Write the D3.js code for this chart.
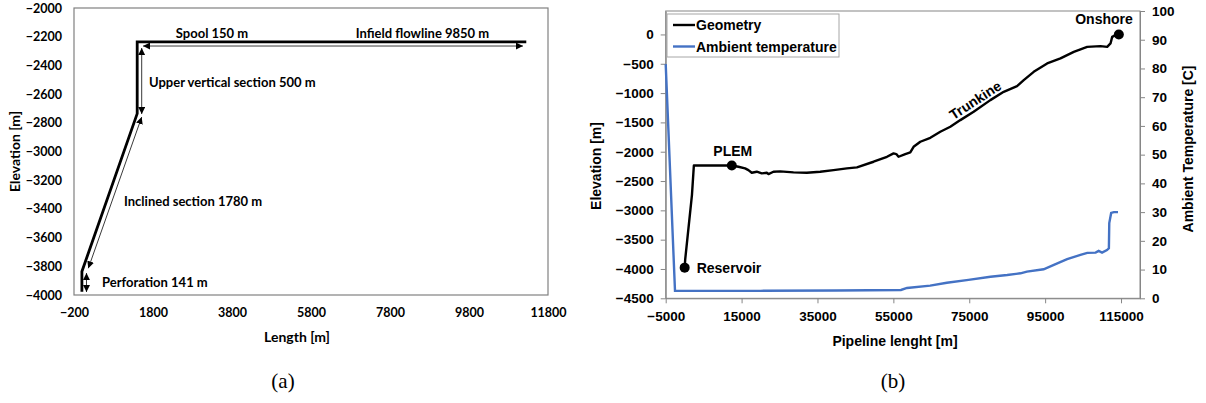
<!DOCTYPE html>
<html>
<head>
<meta charset="utf-8">
<script src="https://cdnjs.cloudflare.com/ajax/libs/d3/7.8.5/d3.min.js"></script>
<style>
  body { margin: 0; background: #fff; }
  svg { display: block; }
</style>
</head>
<body>
<div id="chart"></div>
<script>
// ---- data: (a) well geometry ----
const wellLength = [0, 0, 1400, 1400, 11250];
const wellElev = [-3977, -3836, -2736, -2236, -2236];
const wellXTicks = [-200, 1800, 3800, 5800, 7800, 9800, 11800];
const wellYTicks = d3.range(-4000, -1999, 200);

// section arrows (data coords) and their labels
const sectionArrows = [
  { x1: 1547, y1: -2265, x2: 11167, y2: -2265 },
  { x1: 1514, y1: -2279, x2: 1514, y2: -2739 },
  { x1: 1514, y1: -2760, x2: 162, y2: -3814 },
  { x1: 116, y1: -3847, x2: 116, y2: -3979 }
];
const sectionLabels = [
  { text: "Spool 150 m", x: 3294, y: -2175, anchor: "middle" },
  { text: "Infield flowline 9850 m", x: 8623, y: -2175, anchor: "middle" },
  { text: "Upper vertical section 500 m", x: 1699, y: -2516, anchor: "start" },
  { text: "Inclined section 1780 m", x: 1066, y: -3343, anchor: "start" },
  { text: "Perforation 141 m", x: 509, y: -3907, anchor: "start" }
];

// ---- data: (b) pipeline profile ----
const pipeLength = [0, 141, 1921, 2421, 12421, 14160, 15920, 16800, 17680, 19000,
  20320, 21640, 22080, 23400, 25160, 28680, 32200, 35710, 39230, 42750,
  45400, 49780, 53310, 55050, 55770, 56370, 58140, 59460, 60330, 62100,
  64740, 67370, 70010, 72650, 76160, 80560, 84080, 87600, 89360, 91990,
  95530, 99040, 102550, 106080, 109590, 111350, 112230, 112670, 113550, 114420];
const pipeElev = [-3977, -3836, -2736, -2236, -2236, -2256, -2284, -2313, -2358, -2341,
  -2370, -2358, -2381, -2341, -2336, -2353, -2358, -2341, -2313, -2284,
  -2267, -2171, -2086, -2028, -2040, -2086, -2040, -2011, -1916, -1830,
  -1762, -1660, -1575, -1461, -1319, -1120, -978, -881, -779, -637,
  -494, -409, -296, -211, -199, -211, -153, -41, -11, 0];

const tempLength = [-5000, -2550, 20000, 40000, 57000, 58600, 64700, 69100, 74800, 80600,
  85000, 88500, 90200, 94600, 97300, 100800, 104300, 106100, 108300, 109100,
  110000, 111300, 111800, 111900, 112400, 113100, 114200];
const tempValue = [81.5, 2.6, 2.6, 2.7, 2.9, 3.6, 4.4, 5.4, 6.4, 7.5,
  8.1, 8.7, 9.3, 10.1, 11.6, 13.6, 15.1, 15.8, 15.9, 16.5,
  15.9, 16.8, 17.4, 26.2, 29.7, 30, 30];

const pipeXTicks = d3.range(-5000, 115001, 20000);
const pipeYTicks = d3.range(-4500, 1, 500);
const tempTicks = d3.range(0, 101, 10);

const markers = [
  { name: "Reservoir", x: 0, y: -3977 },
  { name: "PLEM", x: 12421, y: -2236 },
  { name: "Onshore", x: 114420, y: 0 }
];

const svg = d3.select("#chart").append("svg")
  .attr("width", 1206)
  .attr("height", 403);

const defs = svg.append("defs");
defs.append("marker")
  .attr("id", "head")
  .attr("viewBox", "0 0 10 10")
  .attr("refX", 10).attr("refY", 5)
  .attr("markerWidth", 7).attr("markerHeight", 7)
  .attr("markerUnits", "userSpaceOnUse")
  .attr("orient", "auto-start-reverse")
  .append("path").attr("d", "M0,0L10,5L0,10Z").attr("fill", "#000");

// ================= (a) =================
const calibri = "Lato, 'Open Sans', sans-serif";
const xA = d3.scaleLinear().domain([-200, 11800]).range([74, 548]);
const yA = d3.scaleLinear().domain([-4000, -2000]).range([295, 8]);
const gA = svg.append("g").style("font-family", calibri).style("font-weight", 700);

gA.append("rect")
  .attr("x", xA(-200)).attr("y", yA(-2000))
  .attr("width", xA(11800) - xA(-200)).attr("height", yA(-4000) - yA(-2000))
  .attr("fill", "none").attr("stroke", "#808080").attr("stroke-width", 1.2);

const axAy = gA.append("g").attr("transform", `translate(${xA(-200)},0)`)
  .call(d3.axisLeft(yA).tickValues(wellYTicks).tickSize(0).tickPadding(12).tickFormat(d3.format("d")));
const axAx = gA.append("g").attr("transform", `translate(0,${yA(-4000)})`)
  .call(d3.axisBottom(xA).tickValues(wellXTicks).tickSize(0).tickPadding(13).tickFormat(d3.format("d")));
[axAy, axAx].forEach(a => {
  a.select(".domain").remove();
  a.selectAll("text").style("font-family", calibri).style("font-weight", 700)
    .style("font-size", "12.5px").attr("fill", "#000");
});

gA.append("text").attr("transform", `translate(20,${(yA(-2000) + yA(-4000)) / 2}) rotate(-90)`)
  .attr("text-anchor", "middle").style("font-size", "14px").text("Elevation [m]");
gA.append("text").attr("x", 297).attr("y", 342)
  .attr("text-anchor", "middle").style("font-size", "14px").text("Length [m]");

gA.append("path")
  .datum(d3.zip(wellLength, wellElev))
  .attr("fill", "none").attr("stroke", "#000").attr("stroke-width", 2.8)
  .attr("stroke-linejoin", "miter")
  .attr("d", d3.line().x(d => xA(d[0])).y(d => yA(d[1])));

gA.selectAll("line.arrow").data(sectionArrows).join("line")
  .attr("class", "arrow")
  .attr("x1", d => xA(d.x1)).attr("y1", d => yA(d.y1))
  .attr("x2", d => xA(d.x2)).attr("y2", d => yA(d.y2))
  .attr("stroke", "#222").attr("stroke-width", 0.9)
  .attr("marker-start", "url(#head)").attr("marker-end", "url(#head)");

gA.selectAll("text.lbl").data(sectionLabels).join("text")
  .attr("class", "lbl")
  .attr("x", d => xA(d.x)).attr("y", d => yA(d.y))
  .attr("text-anchor", d => d.anchor)
  .attr("dominant-baseline", "central")
  .style("font-size", "13px")
  .text(d => d.text);

// ================= (b) =================
const arial = "'Liberation Sans', Arial, sans-serif";
const xB = d3.scaleLinear().domain([-5000, 120000]).range([665.7, 1140]);
const yB = d3.scaleLinear().domain([-4500, 400]).range([298.3, 11]);
const yT = d3.scaleLinear().domain([0, 100]).range([298.3, 11]);
const gB = svg.append("g").style("font-family", arial).style("font-weight", 700);

gB.append("rect")
  .attr("x", xB(-5000)).attr("y", yB(400))
  .attr("width", xB(120000) - xB(-5000)).attr("height", yB(-4500) - yB(400))
  .attr("fill", "none").attr("stroke", "#868686").attr("stroke-width", 1);

const axBx = gB.append("g").attr("transform", `translate(0,${yB(-4500)})`)
  .call(d3.axisBottom(xB).tickValues(pipeXTicks).tickSizeInner(5).tickSizeOuter(0).tickPadding(6).tickFormat(d3.format("d")));
const axBy = gB.append("g").attr("transform", `translate(${xB(-5000)},0)`)
  .call(d3.axisLeft(yB).tickValues(pipeYTicks).tickSizeInner(5).tickSizeOuter(0).tickPadding(7).tickFormat(d3.format("d")));
const axBt = gB.append("g").attr("transform", `translate(${xB(120000)},0)`)
  .call(d3.axisRight(yT).tickValues(tempTicks).tickSizeInner(5).tickSizeOuter(0).tickPadding(7));
[axBx, axBy, axBt].forEach(a => {
  a.select(".domain").attr("stroke", "#868686");
  a.selectAll(".tick line").attr("stroke", "#868686");
  a.selectAll("text").style("font-family", arial).style("font-weight", 700)
    .style("font-size", "13.5px").attr("fill", "#000");
});
axBx.selectAll("text").attr("dy", "0.9em");

gB.append("text").attr("transform", `translate(601,166) rotate(-90)`)
  .attr("text-anchor", "middle").style("font-size", "14px").text("Elevation [m]");
gB.append("text").attr("transform", `translate(1193,149) rotate(-90)`)
  .attr("text-anchor", "middle").style("font-size", "14px").text("Ambient Temperature [C]");
gB.append("text").attr("x", 895).attr("y", 346)
  .attr("text-anchor", "middle").style("font-size", "14px").text("Pipeline lenght [m]");

gB.append("path")
  .datum(d3.zip(tempLength, tempValue))
  .attr("fill", "none").attr("stroke", "#4472C4").attr("stroke-width", 2.4)
  .attr("d", d3.line().x(d => xB(d[0])).y(d => yT(d[1])));

gB.append("path")
  .datum(d3.zip(pipeLength, pipeElev))
  .attr("fill", "none").attr("stroke", "#000").attr("stroke-width", 2.4)
  .attr("stroke-linejoin", "round")
  .attr("d", d3.line().x(d => xB(d[0])).y(d => yB(d[1])));

gB.selectAll("circle.mk").data(markers).join("circle")
  .attr("class", "mk")
  .attr("cx", d => xB(d.x)).attr("cy", d => yB(d.y)).attr("r", 5)
  .attr("fill", "#000");

const mkLabel = {
  Reservoir: { dx: 12, dy: 0, anchor: "start" },
  PLEM: { dx: 1, dy: -15, anchor: "middle" },
  Onshore: { dx: 14, dy: -15, anchor: "end" }
};
gB.selectAll("text.mkl").data(markers).join("text")
  .attr("class", "mkl")
  .attr("x", d => xB(d.x) + mkLabel[d.name].dx)
  .attr("y", d => yB(d.y) + mkLabel[d.name].dy)
  .attr("text-anchor", d => mkLabel[d.name].anchor)
  .attr("dominant-baseline", "central")
  .style("font-size", "14px")
  .text(d => d.name);

// Trunkine label along the line
gB.append("text")
  .attr("transform", `translate(${xB(76600)},${yB(-1120)}) rotate(-33)`)
  .attr("text-anchor", "middle")
  .attr("dominant-baseline", "central")
  .style("font-size", "14px")
  .text("Trunkine");

// legend
const legend = gB.append("g").attr("transform", "translate(667,14)");
legend.append("rect").attr("width", 172).attr("height", 43)
  .attr("fill", "#fff").attr("stroke", "#a6a6a6").attr("stroke-width", 1);
const legendItems = [
  { name: "Geometry", color: "#000" },
  { name: "Ambient temperature", color: "#4472C4" }
];
legendItems.forEach((d, i) => {
  const row = legend.append("g").attr("transform", `translate(0,${11 + i * 21.5})`);
  row.append("line").attr("x1", 6).attr("x2", 28).attr("stroke", d.color).attr("stroke-width", 2.4);
  row.append("text").attr("x", 29).attr("dominant-baseline", "central")
    .style("font-size", "14px").text(d.name);
});

// captions
svg.append("text").attr("x", 283).attr("y", 388).attr("text-anchor", "middle")
  .style("font-family", "'Liberation Serif', serif").style("font-size", "21px").text("(a)");
svg.append("text").attr("x", 893).attr("y", 388).attr("text-anchor", "middle")
  .style("font-family", "'Liberation Serif', serif").style("font-size", "21px").text("(b)");
</script>
</body>
</html>
